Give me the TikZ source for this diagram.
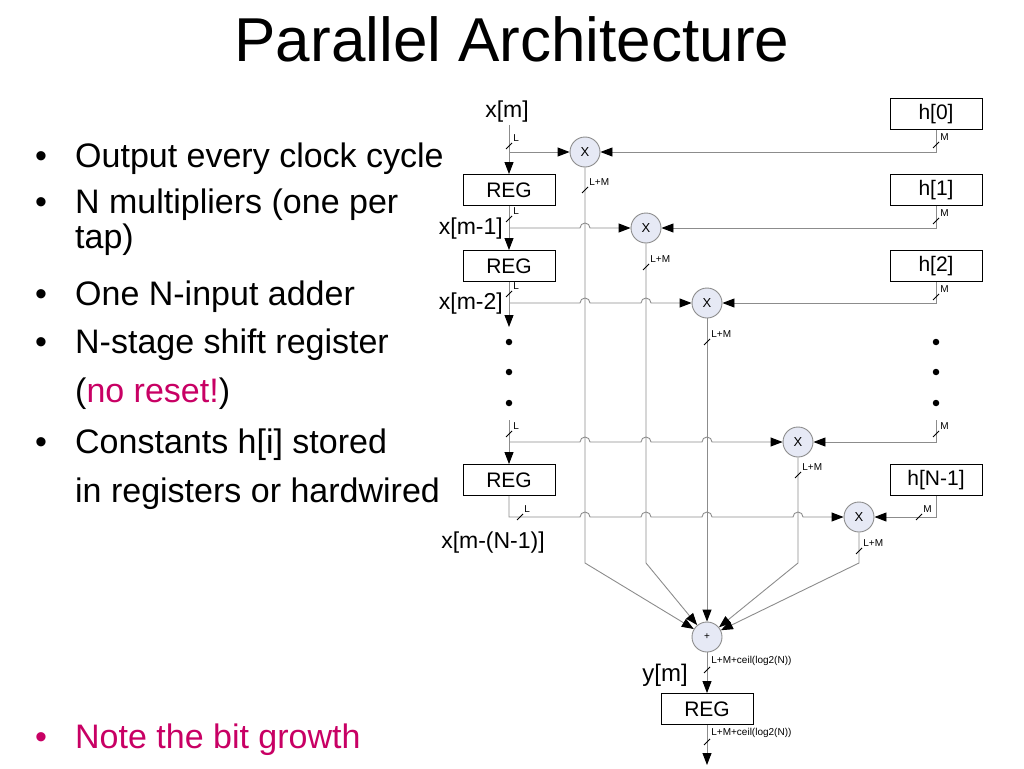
\documentclass[tikz,border=0pt]{standalone}
\usepackage{fontspec}
\setmainfont{Liberation Sans}
\usepackage{xcolor}
\usetikzlibrary{positioning,calc,arrows.meta}
\definecolor{wiregray}{RGB}{140,140,140}
\definecolor{multfill}{RGB}{230,233,245}
\definecolor{notecol}{RGB}{200,0,100}
\tikzset{
  reg/.style={draw=black, line width=0.9pt, minimum width=92pt, minimum height=31pt, inner sep=0pt, font=\fontsize{21}{24}\selectfont},
  mult/.style={circle, draw=wiregray, line width=0.9pt, fill=multfill, minimum size=30pt, inner sep=0pt, font=\fontsize{13}{15}\selectfont},
  wire/.style={draw=wiregray, line width=0.9pt},
  arr/.style={-{Triangle[length=12pt,width=9pt,color=black]}},
  tick/.style={draw=black, line width=0.8pt},
  bw/.style={anchor=south west, inner sep=1pt, font=\fontsize{10}{11}\selectfont},
  sig/.style={inner sep=3pt, font=\fontsize{23}{26}\selectfont},
  dot/.style={circle, fill=black, minimum size=6.5pt, inner sep=0pt},
  bul/.style={anchor=base west, inner sep=0pt, font=\fontsize{34}{40}\selectfont}
}
\begin{document}
\begin{tikzpicture}[x=1pt, y=-1pt]
    \useasboundingbox (0,0) rectangle (1024,768);

    % Title
    \node[anchor=base, font=\fontsize{62}{70}\selectfont] (title) at (512,62) {Parallel Architecture};

    % Bullet list
    \node[bul] (bul1) at (35,167) {•};
    \node[bul] (txt1) at (75,167) {Output every clock cycle};
    \node[bul] (bul2) at (35,213) {•};
    \node[bul] (txt2) at (75,213) {N multipliers (one per};
    \node[bul] (txt2b) at (75,248) {tap)};
    \node[bul] (bul3) at (35,305) {•};
    \node[bul] (txt3) at (75,305) {One N-input adder};
    \node[bul] (bul4) at (35,353) {•};
    \node[bul] (txt4) at (75,353) {N-stage shift register};
    \node[bul] (txt4b) at (75,402) {(\textcolor{notecol}{no reset!})};
    \node[bul] (bul5) at (35,453) {•};
    \node[bul] (txt5) at (75,453) {Constants h[i] stored};
    \node[bul] (txt5b) at (75,502) {in registers or hardwired};
    \node[bul, text=notecol] (bul6) at (35,748) {•};
    \node[bul, text=notecol] (txt6) at (75,748) {Note the bit growth};

    % Registers and coefficients
    \node[reg] (reg1) at (509,190) {REG};
    \node[reg] (reg2) at (509,266) {REG};
    \node[reg] (regN) at (509,480) {REG};
    \node[reg] (rego) at (707,709) {REG};
    \node[reg] (h0) at (936,114) {h[0]};
    \node[reg] (h1) at (936,190) {h[1]};
    \node[reg] (h2) at (936,266) {h[2]};
    \node[reg] (hN) at (936,480) {h[N-1]};

    % Multipliers and adder
    \node[mult] (mul1) at (585,152) {X};
    \node[mult] (mul2) at (646,228) {X};
    \node[mult] (mul3) at (707,303) {X};
    \node[mult] (mulA) at (798,442) {X};
    \node[mult] (mulN) at (859,517) {X};
    \node[mult, font=\fontsize{10}{11}\selectfont] (add) at (707,637) {+};

    % Signal names
    \node[sig, anchor=base] (xin) at (507,117) {x[m]};
    \node[sig, anchor=base east, inner sep=0pt] (xl1) at (503,234) {x[m-1]};
    \node[sig, anchor=base east, inner sep=0pt] (xl2) at (503,309) {x[m-2]};
    \node[sig, anchor=base, inner sep=0pt] (xlN) at (493,548) {x[m-(N-1)]};
    \node[sig, anchor=base, inner sep=0pt, font=\fontsize{24}{28}\selectfont] (ym) at (665,681) {y[m]};

    % Dots
    \node[dot] (ldot1) at (509,342) {};
    \node[dot] (ldot2) at (509,372) {};
    \node[dot] (ldot3) at (509,403) {};
    \node[dot] (rdot1) at (936,342) {};
    \node[dot] (rdot2) at (936,372) {};
    \node[dot] (rdot3) at (936,403) {};

    % Delay line
    \coordinate (t1) at (reg1 |- mul1);
    \coordinate (t2) at (reg1 |- mul2);
    \coordinate (t3) at (reg2 |- mul3);
    \coordinate (t4) at (regN |- mulA);
    \coordinate (x3end) at (509,327);
    \coordinate (x4start) at (509,420);
    \draw[wire,arr] (xin.south -| reg1) -- (reg1);
    \draw[wire,arr] (t1) -- (mul1);
    \draw[wire,arr] (reg1) -- (reg2);
    \draw[wire,arr] (t2) -- ($(mul1|-t2)+(-5,0)$) arc[start angle=180, end angle=360, radius=5] -- (mul2);
    \draw[wire,arr] (reg2) -- (x3end);
    \draw[wire,arr] (t3) -- ($(mul1|-t3)+(-5,0)$) arc[start angle=180, end angle=360, radius=5]
        -- ($(mul2|-t3)+(-5,0)$) arc[start angle=180, end angle=360, radius=5] -- (mul3);
    \draw[wire,arr] (x4start) -- (regN);
    \draw[wire,arr] (t4) -- ($(mul1|-t4)+(-5,0)$) arc[start angle=180, end angle=360, radius=5]
        -- ($(mul2|-t4)+(-5,0)$) arc[start angle=180, end angle=360, radius=5]
        -- ($(mul3|-t4)+(-5,0)$) arc[start angle=180, end angle=360, radius=5] -- (mulA);
    \draw[wire,arr] (regN) |- ($(mul1|-mulN)+(-5,0)$) arc[start angle=180, end angle=360, radius=5]
        -- ($(mul2|-mulN)+(-5,0)$) arc[start angle=180, end angle=360, radius=5]
        -- ($(mul3|-mulN)+(-5,0)$) arc[start angle=180, end angle=360, radius=5]
        -- ($(mulA|-mulN)+(-5,0)$) arc[start angle=180, end angle=360, radius=5] -- (mulN);

    % Coefficients
    \coordinate (hA) at (936,420);
    \draw[wire,arr] (h0) |- (mul1);
    \draw[wire,arr] (h1) |- (mul2);
    \draw[wire,arr] (h2) |- (mul3);
    \draw[wire,arr] (hA) |- (mulA);
    \draw[wire,arr] (hN) |- (mulN);

    % Products to adder
    \coordinate (bend) at (0,563);
    \coordinate (yout) at (707,765);
    \draw[wire,arr] (mul1) -- (mul1 |- bend) -- (add);
    \draw[wire,arr] (mul2) -- (mul2 |- bend) -- (add);
    \draw[wire,arr] (mul3) -- (add);
    \draw[wire,arr] (mulA) -- (mulA |- bend) -- (add);
    \draw[wire,arr] (mulN) -- (mulN |- bend) -- (add);
    \draw[wire,arr] (add) -- (rego);
    \draw[wire,arr] (rego) -- (yout);

    % Bus widths
    \draw[tick] (506,149) -- ++(6,-6) node[bw] (bwx0) {L};
    \draw[tick] (506,222) -- ++(6,-6) node[bw] (bwx1) {L};
    \draw[tick] (506,297) -- ++(6,-6) node[bw] (bwx2) {L};
    \draw[tick] (506,437) -- ++(6,-6) node[bw] (bwx3) {L};
    \draw[tick] (517,520) -- ++(6,-6) node[bw] (bwx4) {L};
    \draw[tick] (582,193) -- ++(6,-6) node[bw] (bwp1) {L+M};
    \draw[tick] (643,270) -- ++(6,-6) node[bw] (bwp2) {L+M};
    \draw[tick] (704,345) -- ++(6,-6) node[bw] (bwp3) {L+M};
    \draw[tick] (795,478) -- ++(6,-6) node[bw] (bwp4) {L+M};
    \draw[tick] (856,554) -- ++(6,-6) node[bw] (bwp5) {L+M};
    \draw[tick] (933,148) -- ++(6,-6) node[bw] (bwh0) {M};
    \draw[tick] (933,224) -- ++(6,-6) node[bw] (bwh1) {M};
    \draw[tick] (933,300) -- ++(6,-6) node[bw] (bwh2) {M};
    \draw[tick] (933,437) -- ++(6,-6) node[bw] (bwh3) {M};
    \draw[tick] (916,520) -- ++(6,-6) node[bw] (bwh4) {M};
    \draw[tick] (704,673) -- ++(6,-6) node[bw] (bwy0) {L+M+ceil(log2(N))};
    \draw[tick] (704,745) -- ++(6,-6) node[bw] (bwy1) {L+M+ceil(log2(N))};
\end{tikzpicture}
\end{document}
